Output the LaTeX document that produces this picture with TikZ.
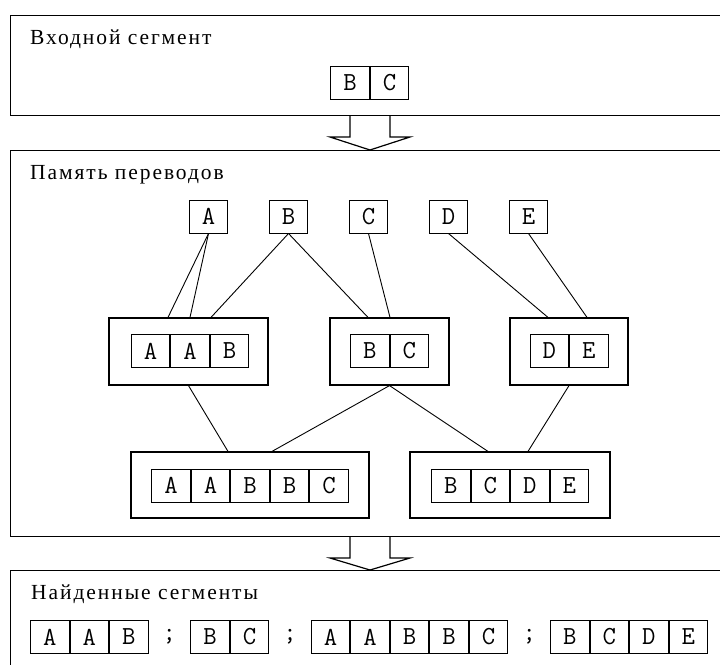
\documentclass[tikz,border=0pt]{standalone}
\usepackage{fontspec}
\newfontfamily\labelfont{Liberation Serif}[LetterSpace=9]
\usetikzlibrary{positioning}
\usetikzlibrary{calc}
\tikzstyle{cell}=[rectangle,draw,line width=1pt,minimum width=38.5pt,minimum height=33pt,inner sep=0pt,font=\ttfamily\fontsize{26}{26}\selectfont]
\tikzstyle{group}=[rectangle,draw,line width=1.2pt,inner sep=0pt]
\tikzstyle{frame}=[rectangle,draw,line width=1.3pt,inner sep=0pt,anchor=north west]
\tikzstyle{title}=[anchor=west,inner sep=0pt,font=\labelfont\fontsize{21.5}{21.5}\selectfont]
\tikzstyle{link}=[line width=0.9pt]
\tikzstyle{hollow}=[line width=1.2pt,line join=miter]

\begin{document}
\begin{tikzpicture}[x=1pt,y=-1pt]

   \useasboundingbox[fill=white] (0,0) rectangle (720,664);

%  three frames, right side runs off the page
   \node[frame, minimum width=760pt, minimum height=100pt] (inframe) at (10,15) {};
   \node[frame, minimum width=760pt, minimum height=386pt] (memframe) at (10,150) {};
   \node[frame, minimum width=760pt, minimum height=120pt] (outframe) at (10,570) {};

   \node[title] (intitle) at (30,39) {Входной сегмент};
   \node[title] (memtitle) at (30,175) {Память переводов};
   \node[title] (outtitle) at (31,594) {Найденные сегменты};

%  input segment
   \foreach \x/\l in {350/B, 389.5/C}
        \node[cell] (in\l) at (\x,82.5) {\l};

%  big arrows
   \draw[hollow] (350,115) -- (350,137) -- (330,137) -- (370,150) -- (410,137) -- (390,137) -- (390,115);
   \draw[hollow] (350,536) -- (350,558) -- (330,558) -- (370,570) -- (410,558) -- (390,558) -- (390,536);

%  memory: single units
    \foreach \pos/\name in {{(208.5,216.5)/A}, {(288.5,216.5)/B}, {(368.5,216.5)/C}, {(448.5,216.5)/D}, {(528.5,216.5)/E}}
        \node[cell] (\name) at \pos {\name};

%  memory: segments
   \node[group, minimum width=159pt, minimum height=67pt] (AAB) at (188.5,351.5) {};
   \node[group, minimum width=119pt, minimum height=67pt] (BC) at (389.5,351.5) {};
   \node[group, minimum width=118pt, minimum height=67pt] (DE) at (569,351.5) {};
   \node[group, minimum width=238pt, minimum height=66pt] (AABBC) at (250,485) {};
   \node[group, minimum width=200pt, minimum height=66pt] (BCDE) at (510,485) {};

    \foreach \x/\l [count=\i] in {150.5/A, 190/A, 229.5/B}
        \node[cell] (AAB\i) at (\x,351) {\l};
    \foreach \x/\l [count=\i] in {369.75/B, 409.25/C}
        \node[cell] (BC\i) at (\x,351) {\l};
    \foreach \x/\l [count=\i] in {549.25/D, 588.75/E}
        \node[cell] (DE\i) at (\x,351) {\l};
    \foreach \x/\l [count=\i] in {171/A, 210.5/A, 250/B, 289.5/B, 329/C}
        \node[cell] (AABBC\i) at (\x,485.5) {\l};
    \foreach \x/\l [count=\i] in {450.75/B, 490.25/C, 529.75/D, 569.25/E}
        \node[cell] (BCDE\i) at (\x,485.5) {\l};

%  links
    \foreach \source/\dest/\shift in {A/AAB/-20.5, A/AAB/1.5, B/AAB/22.5, B/BC/-21.5, C/BC/0.5, D/DE/-21, E/DE/18,
                                     AAB/AABBC/-22, BC/AABBC/22, BC/BCDE/-22, DE/BCDE/18}
                \draw[link] (\source.south) -- ([xshift=\shift pt]\dest.north);

%  found segments
    \foreach \x/\l [count=\i] in {49.75/A, 89.25/A, 128.75/B, 209.95/B, 249.45/C,
                                  330.65/A, 370.15/A, 409.65/B, 449.15/B, 488.65/C,
                                  569.85/B, 609.35/C, 648.85/D, 688.35/E}
        \node[cell] (out\i) at (\x,637) {\l};
    \foreach \x [count=\i] in {169.35, 290.05, 529.25}
        \node[font=\ttfamily\fontsize{26}{26}\selectfont, inner sep=0pt] (semi\i) at (\x,637) {;};

\end{tikzpicture}
\end{document}
